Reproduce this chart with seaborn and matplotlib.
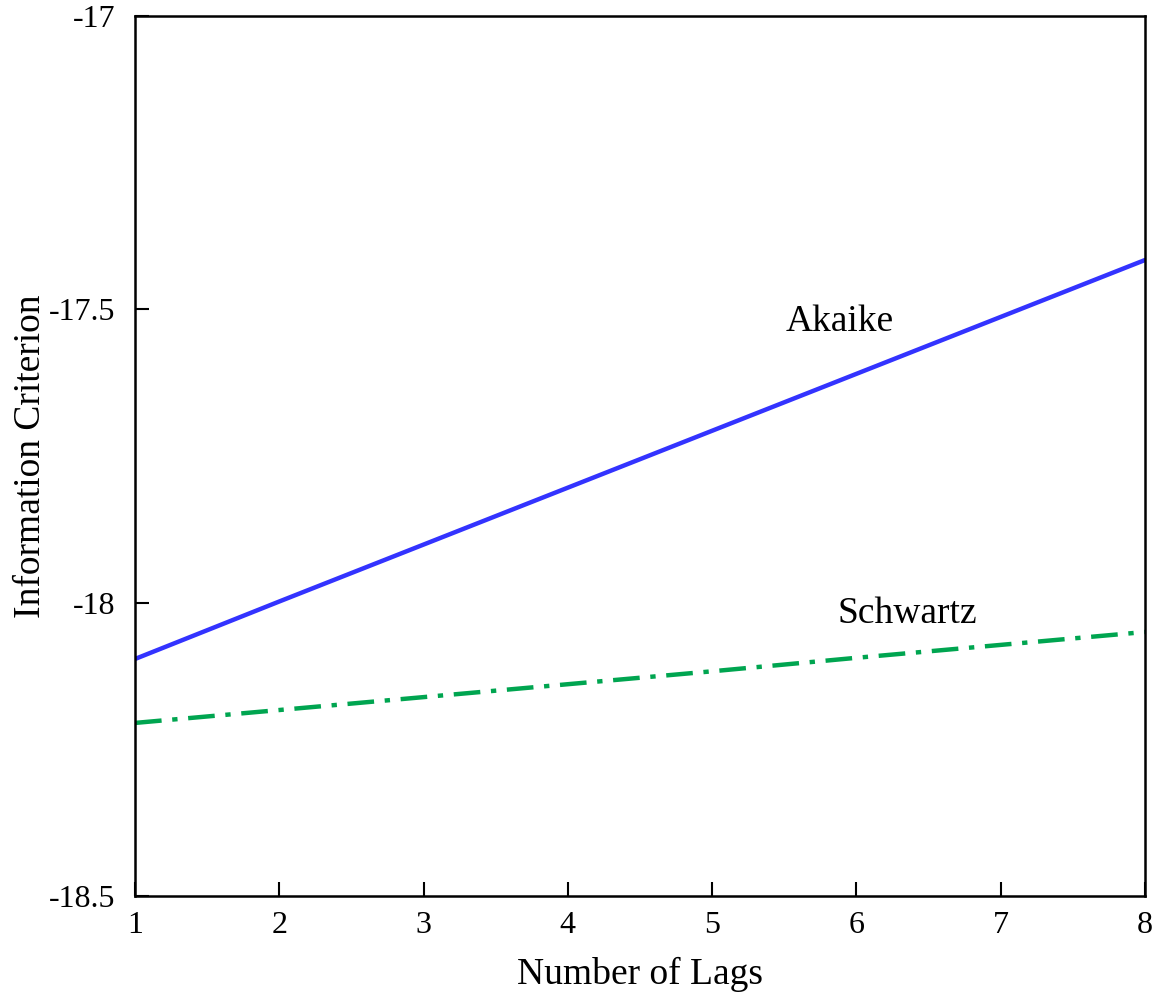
import numpy as np
import pandas as pd
import matplotlib
matplotlib.use("Agg")
import matplotlib.pyplot as plt
import seaborn as sns

lags = [1, 2, 3, 4, 5, 6, 7, 8]
akaike = [-18.096, -17.998, -17.901, -17.804, -17.707, -17.610, -17.513, -17.416]
schwartz = [-18.205, -18.183, -18.161, -18.139, -18.117, -18.094, -18.072, -18.050]
y_ticks = [-18.5, -18, -17.5, -17]
y_tick_labels = ["-18.5", "-18", "-17.5", "-17"]
x_ticks = [1, 2, 3, 4, 5, 6, 7, 8]

sns.set_theme(style="white")
plt.rcParams['font.family'] = ['Liberation Serif', 'DejaVu Serif']
plt.rcParams['text.color'] = 'black'
plt.rcParams['axes.labelcolor'] = 'black'
plt.rcParams['xtick.color'] = 'black'
plt.rcParams['ytick.color'] = 'black'

df = pd.DataFrame({
    "lag": lags * 2,
    "value": akaike + schwartz,
    "crit": ["Akaike"] * len(lags) + ["Schwartz"] * len(lags),
})

fig = plt.figure(figsize=(11.57, 9.97), dpi=100)
ax = fig.add_axes([0.1167, 0.1013, 0.8729, 0.8827])

sns.lineplot(data=df[df.crit == "Akaike"], x="lag", y="value", ax=ax,
             color="#3333FF", linewidth=3.2, legend=False)
sns.lineplot(data=df[df.crit == "Schwartz"], x="lag", y="value", ax=ax,
             color="#00A550", linewidth=3.2, legend=False)
ax.lines[1].set_dashes([6, 2.4, 1.2, 2.4])

ax.set_xlim(1, 8)
ax.set_ylim(-18.5, -17)
ax.set_xticks(x_ticks)
ax.set_xticklabels([str(t) for t in x_ticks])
ax.set_yticks(y_ticks)
ax.set_yticklabels(y_tick_labels)
ax.tick_params(axis="both", direction="in", length=10, width=1.5,
               labelsize=23, bottom=True, left=True, top=False, right=False)
ax.tick_params(axis="y", pad=14)
ax.tick_params(axis="x", pad=11)
for s in ax.spines.values():
    s.set_linewidth(1.8)
    s.set_color("black")

ax.set_xlabel("Number of Lags", fontsize=27, labelpad=12)
ax.set_ylabel("Information Criterion", fontsize=27, labelpad=1)

ax.text(5.886, -17.522, "Akaike", fontsize=27, ha="center", va="center")
ax.text(6.35, -18.019, "Schwartz", fontsize=27, ha="center", va="center")

fig.savefig("out.png", dpi=100, facecolor="white")
